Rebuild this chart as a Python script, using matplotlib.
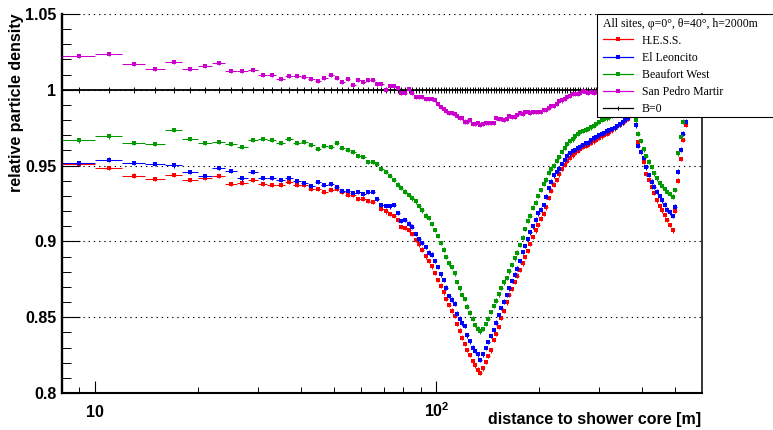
import matplotlib
matplotlib.use("Agg")
import matplotlib.pyplot as plt
from matplotlib.lines import Line2D
from matplotlib.patches import Rectangle
from matplotlib.ticker import FixedLocator, FixedFormatter, NullFormatter


# bin centres in metres: 2 m bins up to 120 m, then finer log bins
r_centers = [
    9, 11, 13, 15, 17, 19, 21, 23, 25, 27,
    29, 31, 33, 35, 37, 39, 41, 43, 45, 47,
    49, 51, 53, 55, 57, 59, 61, 63, 65, 67,
    69, 71, 73, 75, 77, 79, 81, 83, 85, 87,
    89, 91, 93, 95, 97, 99, 101, 103, 105, 107,
    109, 111, 113, 115, 117, 119,
    121.0, 123.2, 125.4, 127.6, 129.9, 132.2, 134.6, 137.0, 139.4, 141.9,
    144.5, 147.1, 149.7, 152.4, 155.1, 157.9, 160.7, 163.6, 166.5, 169.5,
    172.5, 175.6, 178.8, 182.0, 185.2, 188.5, 191.9, 195.4, 198.9, 202.4,
    206.0, 209.7, 213.5, 217.3, 221.2, 225.2, 229.2, 233.3, 237.5, 241.8,
    246.1, 250.5, 255.0, 259.6, 264.2, 268.9, 273.7, 278.6, 283.6, 288.7,
    293.9, 299.2, 304.6, 310.1, 315.6, 321.3, 327.0, 332.9, 338.9, 344.9,
    351.1, 357.4, 363.8, 370.3, 377.0, 383.8, 390.7, 397.7, 404.8, 412.1,
    419.5, 427.0, 434.7, 442.5, 450.5, 458.6, 466.8, 475.2, 483.8, 492.5,
    501.3, 510.3, 519.5, 528.9, 538.4, 548.1, 557.9, 567.9, 578.1, 588.5,
    599.1,
]

ratio_hess = [
    0.9512, 0.9483, 0.9433, 0.9413, 0.9439, 0.9404, 0.9418, 0.9431, 0.9378, 0.9385,
    0.9404, 0.9378, 0.9371, 0.9371, 0.9391, 0.9371, 0.9371, 0.9345, 0.9345, 0.9325,
    0.9338, 0.9345, 0.9325, 0.9305, 0.9305, 0.9279, 0.9279, 0.9266, 0.9259, 0.9279,
    0.9213, 0.9198, 0.918, 0.9167, 0.914, 0.9094, 0.9088, 0.9075, 0.9048, 0.9009,
    0.898, 0.8945, 0.8902, 0.887, 0.8836, 0.8792, 0.8744, 0.8708, 0.8663, 0.862,
    0.858, 0.8543, 0.8508, 0.8455, 0.8412, 0.8365,
    0.8323, 0.8285, 0.8252, 0.821, 0.8182, 0.8155, 0.8131, 0.8162, 0.8205, 0.8245,
    0.8282, 0.8349, 0.839, 0.8435, 0.8494, 0.854, 0.8597, 0.8645, 0.8687, 0.8732,
    0.8775, 0.881, 0.8855, 0.8898, 0.8936, 0.8982, 0.9028, 0.9072, 0.9109, 0.915,
    0.9184, 0.9225, 0.9285, 0.9335, 0.9375, 0.9406, 0.9442, 0.9478, 0.9505, 0.953,
    0.9552, 0.9568, 0.9583, 0.9598, 0.961, 0.9622, 0.963, 0.9637, 0.965, 0.966,
    0.9672, 0.9681, 0.9692, 0.9703, 0.971, 0.972, 0.9733, 0.9745, 0.9758, 0.977,
    0.9783, 0.9795, 0.981, 0.9828, 0.9845, 0.977, 0.9655, 0.9593, 0.9525, 0.9445,
    0.9405, 0.9362, 0.9318, 0.927, 0.9234, 0.9205, 0.9175, 0.914, 0.9108, 0.9072,
    0.92, 0.94, 0.9545, 0.967, 0.9769, 0.984, 0.989, 0.993, 0.996, 0.998,
    1.0,
]

ratio_leoncito = [
    0.9518, 0.954, 0.9518, 0.951, 0.9501, 0.9457, 0.9431, 0.9484, 0.9464, 0.9415,
    0.9457, 0.9418, 0.9418, 0.9404, 0.9418, 0.9398, 0.9385, 0.9365, 0.9391, 0.9371,
    0.9378, 0.9358, 0.9332, 0.9332, 0.9319, 0.9325, 0.9312, 0.9325, 0.9325, 0.9279,
    0.9239, 0.9235, 0.9232, 0.9239, 0.9187, 0.9134, 0.914, 0.9118, 0.9098, 0.905,
    0.9015, 0.899, 0.8962, 0.8925, 0.8912, 0.8872, 0.8832, 0.8782, 0.8745, 0.8695,
    0.864, 0.8616, 0.859, 0.8523, 0.849, 0.846,
    0.8441, 0.838, 0.834, 0.83, 0.8278, 0.8255, 0.8217, 0.8255, 0.8298, 0.8336,
    0.8375, 0.8415, 0.8465, 0.8512, 0.856, 0.8603, 0.8645, 0.869, 0.874, 0.878,
    0.882, 0.887, 0.893, 0.897, 0.9015, 0.906, 0.91, 0.9143, 0.9185, 0.921,
    0.924, 0.9295, 0.935, 0.9395, 0.9435, 0.9461, 0.948, 0.951, 0.954, 0.9565,
    0.958, 0.9595, 0.9604, 0.9613, 0.9625, 0.9637, 0.9646, 0.9652, 0.9666, 0.968,
    0.969, 0.97, 0.9708, 0.9715, 0.9725, 0.9733, 0.974, 0.9747, 0.976, 0.9772,
    0.9785, 0.98, 0.9813, 0.9835, 0.9875, 0.9765, 0.963, 0.959, 0.955, 0.9488,
    0.9439, 0.9395, 0.9362, 0.9329, 0.93, 0.927, 0.9243, 0.921, 0.9192, 0.9168,
    0.923, 0.946, 0.9605, 0.971, 0.979, 0.984, 0.989, 0.993, 0.996, 0.998,
    1.0,
]

ratio_beaufort = [
    0.9666, 0.9692, 0.9648, 0.9642, 0.9734, 0.9675, 0.9648, 0.9655, 0.9642, 0.9622,
    0.9668, 0.9675, 0.9668, 0.9648, 0.9675, 0.9648, 0.9655, 0.9635, 0.9609, 0.9629,
    0.9622, 0.9648, 0.9615, 0.9602, 0.9589, 0.9563, 0.9556, 0.9523, 0.9523, 0.951,
    0.9477, 0.9458, 0.9432, 0.9405, 0.9375, 0.9352, 0.9328, 0.9305, 0.9283, 0.9265,
    0.9235, 0.9205, 0.917, 0.9155, 0.9115, 0.9075, 0.9035, 0.899, 0.8945, 0.8898,
    0.8855, 0.8832, 0.879, 0.8733, 0.869, 0.8645,
    0.862, 0.857, 0.853, 0.849, 0.8448, 0.8425, 0.8406, 0.8422, 0.8455, 0.849,
    0.8535, 0.8573, 0.861, 0.865, 0.8692, 0.873, 0.876, 0.8802, 0.8845, 0.8888,
    0.8925, 0.8975, 0.9025, 0.9081, 0.9137, 0.917, 0.9222, 0.9255, 0.93, 0.934,
    0.938, 0.9408, 0.945, 0.948, 0.95, 0.953, 0.9558, 0.959, 0.9618, 0.9643,
    0.9662, 0.9673, 0.9692, 0.9711, 0.9722, 0.9728, 0.9734, 0.9741, 0.9752, 0.9763,
    0.9774, 0.9787, 0.98, 0.9806, 0.9811, 0.9819, 0.9826, 0.9835, 0.984, 0.9846,
    0.9852, 0.9858, 0.9866, 0.9874, 0.9879, 0.98, 0.971, 0.9662, 0.9608, 0.9564,
    0.9527, 0.949, 0.9449, 0.9415, 0.9385, 0.9364, 0.9346, 0.9327, 0.9312, 0.9295,
    0.934, 0.958, 0.969, 0.979, 0.9865, 0.991, 0.994, 0.996, 0.998, 0.999,
    1.0,
]

ratio_spm = [
    1.0224, 1.0235, 1.017, 1.0137, 1.0183, 1.0137, 1.0156, 1.0176, 1.0125, 1.0125,
    1.013, 1.0099, 1.0099, 1.007, 1.009, 1.009, 1.0084, 1.007, 1.0057, 1.0077,
    1.0097, 1.0077, 1.0051, 1.007, 1.0031, 1.0064, 1.0051, 1.0064, 1.0064, 1.0037,
    1.0037, 0.9998, 1.0024, 1.0024, 1.0011, 0.9978, 0.9978, 1.0004, 0.9978, 0.9952,
    0.9952, 0.9952, 0.9938, 0.9938, 0.9938, 0.9932, 0.9906, 0.9886, 0.9873, 0.986,
    0.9846, 0.9846, 0.984, 0.9827, 0.9813, 0.9813,
    0.979, 0.979, 0.98, 0.9774, 0.9774, 0.978, 0.9769, 0.9774, 0.978, 0.978,
    0.978, 0.978, 0.9813, 0.9807, 0.9807, 0.98, 0.9807, 0.9827, 0.982, 0.982,
    0.9833, 0.9846, 0.984, 0.9853, 0.9853, 0.9846, 0.9853, 0.9853, 0.9853, 0.9853,
    0.9866, 0.9866, 0.9879, 0.9892, 0.9892, 0.9906, 0.9925, 0.993, 0.9941, 0.9952,
    0.9962, 0.9974, 0.9974, 0.9974, 0.9978, 0.9993, 0.9985, 0.9978, 0.9988, 0.9978,
    0.9985, 0.999, 1.0, 0.9995, 1.001, 0.9985, 1.0, 0.999, 0.9995, 1.001,
    1.0, 0.9985, 0.999, 1.0005, 0.999, 0.9995, 0.998, 0.9975, 0.997, 0.9965,
    0.996, 0.9955, 0.9955, 0.995, 0.9945, 0.994, 0.994, 0.9935, 0.993, 0.993,
    0.9925, 0.993, 0.995, 0.997, 0.998, 0.999, 1.0, 1.0, 1.0005, 1.0,
    1.0,
]

# reference (no field) divided by itself
ratio_b0 = [1.0] * len(r_centers)

y_major = [0.8, 0.85, 0.9, 0.95, 1.0, 1.05]
y_labels = ["0.8", "0.85", "0.9", "0.95", "1", "1.05"]
x_major = [10, 100]
x_labels = ["10", "$10^{2}$"]
x_minor = [9, 20, 30, 40, 50, 60, 70, 80, 90, 200, 300, 400, 500]

series = [
    ("H.E.S.S.", ratio_hess, "#ff0000"),
    ("El Leoncito", ratio_leoncito, "#0000ff"),
    ("Beaufort West", ratio_beaufort, "#009900"),
    ("San Pedro Martir", ratio_spm, "#cc00cc"),
]

plt.rcParams["font.family"] = ["Liberation Sans", "DejaVu Sans"]
plt.rcParams["font.weight"] = "bold"
plt.rcParams["mathtext.fontset"] = "custom"
plt.rcParams["mathtext.rm"] = "Liberation Sans:bold"
plt.rcParams["mathtext.it"] = "Liberation Sans:bold"
plt.rcParams["mathtext.bf"] = "Liberation Sans:bold"

# bin edges half way between neighbouring centres
edges = [8.0] + [(a + b) / 2 for a, b in zip(r_centers[:-1], r_centers[1:])]
edges.append(r_centers[-1] + (r_centers[-1] - r_centers[-2]) / 2)
x_lo = [c - e for c, e in zip(r_centers, edges[:-1])]
x_hi = [e - c for c, e in zip(r_centers, edges[1:])]

W, H = 773, 430
fig = plt.figure(figsize=(W / 100, H / 100), dpi=100)
ax = fig.add_axes([62 / W, 1 - 393 / H, 640 / W, 379 / H])

ax.set_xscale("log")
ax.set_xlim(8, 600)
ax.set_ylim(0.8, 1.05)

# B=0 line with its small error ticks
ax.errorbar(r_centers, ratio_b0, xerr=[x_lo, x_hi], fmt="none",
            ecolor="black", elinewidth=1.3, zorder=2)
ax.errorbar(r_centers, ratio_b0, yerr=0.0018, fmt="none",
            ecolor="black", elinewidth=0.7, zorder=2)

z = 3
for name, vals, col in series:
    ax.errorbar(r_centers, vals, xerr=[x_lo, x_hi], yerr=0.0015, fmt="s",
                color=col, ecolor=col, ms=2.4, mew=0, elinewidth=0.75,
                capsize=0, zorder=z)
    z += 1

ax.yaxis.set_major_locator(FixedLocator(y_major))
ax.yaxis.set_major_formatter(FixedFormatter(y_labels))
ax.yaxis.set_minor_locator(FixedLocator([v / 100 for v in range(80, 106)]))
ax.xaxis.set_major_locator(FixedLocator(x_major))
ax.xaxis.set_major_formatter(FixedFormatter(x_labels))
ax.xaxis.set_minor_locator(FixedLocator(x_minor))
ax.xaxis.set_minor_formatter(NullFormatter())

ax.tick_params(axis="y", which="major", direction="in", length=13, width=0.8,
               labelsize=11.5, pad=4)
ax.tick_params(axis="y", which="minor", direction="in", length=6.5, width=0.7)
ax.tick_params(axis="x", which="major", direction="in", length=8.5, width=0.8,
               labelsize=11.5, pad=17)
ax.tick_params(axis="x", which="minor", direction="in", length=4.3, width=0.7)
for lbl in ax.get_xticklabels():
    lbl.set_va("baseline")

ax.yaxis.grid(True, which="major", color="black", linestyle=(0, (1.2, 3.5)),
              linewidth=0.8)
ax.spines["top"].set_visible(False)
ax.spines["left"].set_linewidth(1.7)
ax.spines["bottom"].set_linewidth(1.5)
ax.spines["right"].set_linewidth(1.1)

fig.text(17 / W, 1 - 13 / H, "relative particle density", rotation=90,
         ha="center", va="top", fontsize=11.5, fontweight="bold")
fig.text(701 / W, 1 - 424 / H, "distance to shower core [m]", ha="right",
         va="baseline", fontsize=11.5, fontweight="bold")

# legend box runs off the right edge, as in the original
box = Rectangle((597 / W, 1 - 117 / H), 200 / W, 103 / H, transform=fig.transFigure,
                facecolor="white", edgecolor="black", linewidth=0.8, zorder=10)
fig.add_artist(box)

serif = {"family": "Liberation Serif", "weight": "normal", "size": 8.5}
handles = [Line2D([], [], color=col, lw=0.9, marker="s", ms=2.6, mew=0)
           for _, _, col in series]
handles.append(Line2D([], [], color="black", lw=0.9, marker="|", ms=3, mew=0.7))
labels = [s[0] for s in series] + ["B=0"]
leg = fig.legend(handles, labels, loc="upper left",
                 bbox_to_anchor=(599 / W, 1 - 14 / H), bbox_transform=fig.transFigure,
                 frameon=False, title="All sites, φ=0°, θ=40°, h=2000m",
                 alignment="left", prop=serif, title_fontproperties=serif,
                 handlelength=2.6, handletextpad=0.7, labelspacing=0.43,
                 borderpad=0.3, borderaxespad=0)
leg.set_zorder(11)

fig.savefig("out.png", dpi=100)
